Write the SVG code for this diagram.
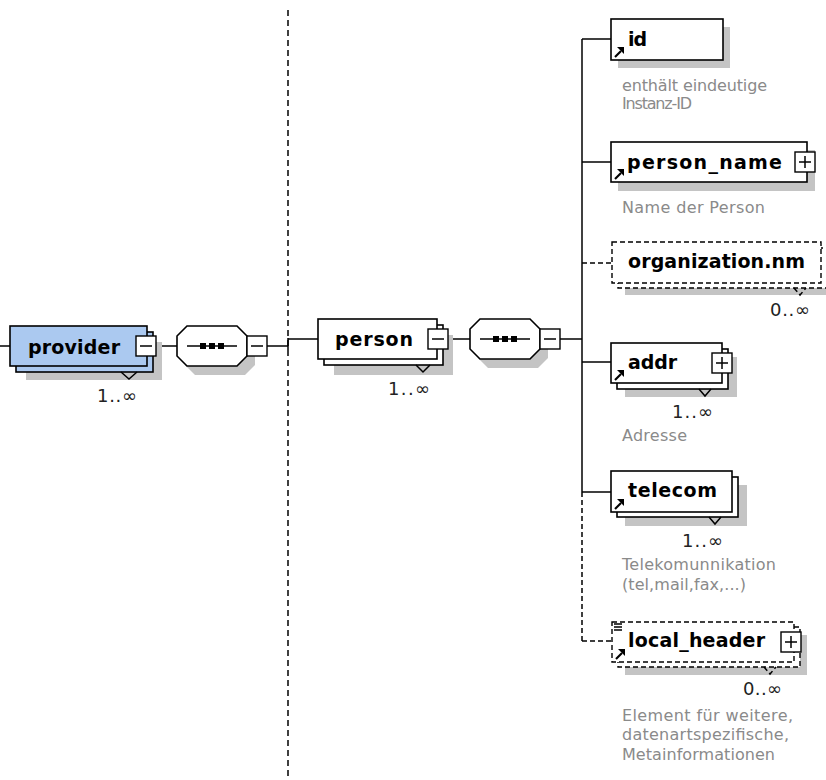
<svg xmlns="http://www.w3.org/2000/svg" xmlns:xlink="http://www.w3.org/1999/xlink" width="826" height="780" viewBox="0 0 826 780">
<style>
.box{fill:#fff;stroke:#000;stroke-width:1.6}
.prov{fill:#abc9f0;stroke:#000;stroke-width:1.6}
.opt{fill:#fff;stroke:#000;stroke-width:1.4;stroke-dasharray:5,3}
.sh{fill:#c4c4c4}
.ln{stroke:#000;stroke-width:1.5;fill:none}
.dl{stroke:#000;stroke-width:1.5;fill:none;stroke-dasharray:5,3}
.ico{fill:#fff;stroke:#000;stroke-width:1.4}
.lbl{font-family:"DejaVu Sans",sans-serif;font-weight:bold;font-size:19px;fill:#000}
.mul{font-family:"DejaVu Sans",sans-serif;font-size:18px;fill:#222}
.ann{font-family:"DejaVu Sans",sans-serif;font-size:16px;fill:#8a8a8a}
</style>
<defs>
  <g id="minus"><rect class="ico" x="0" y="0" width="20" height="20"/><line class="ln" x1="4" y1="10" x2="16" y2="10"/></g>
  <g id="plus"><rect class="ico" x="0" y="0" width="20" height="20"/><line class="ln" x1="4" y1="10" x2="16" y2="10"/><line class="ln" x1="10" y1="4" x2="10" y2="16"/></g>
  <g id="ref"><line stroke="#000" stroke-width="2.2" x1="4" y1="-3" x2="10" y2="-9"/><polygon fill="#000" points="13,-13 13,-6 6,-13"/></g>
  <path id="oct" d="M0,-10 L10,-20 L60,-20 L70,-10 L70,10 L60,20 L10,20 L0,10 Z"/>
  <g id="seq">
    <use xlink:href="#oct" transform="translate(8,9)" class="sh"/>
    <use xlink:href="#oct" class="box"/>
    <line class="ln" x1="10" y1="0" x2="60" y2="0"/>
    <rect x="23" y="-3" width="6" height="6" fill="#000"/>
    <rect x="32" y="-3" width="6" height="6" fill="#000"/>
    <rect x="41" y="-3" width="6" height="6" fill="#000"/>
    <use xlink:href="#minus" x="70" y="-10"/>
  </g>
</defs>

<g id="divider">
  <line class="ln" x1="288" y1="10" x2="288" y2="780" stroke-dasharray="6,4"/>
</g>

<g id="connectors">
  <line class="ln" x1="0" y1="346" x2="10" y2="346"/>
  <line class="ln" x1="156" y1="346" x2="177" y2="346"/>
  <line class="ln" x1="267" y1="346" x2="288" y2="346"/>
  <line class="ln" x1="288" y1="338" x2="288" y2="350"/>
  <line class="ln" x1="288" y1="339" x2="318" y2="339"/>
  <line class="ln" x1="448" y1="339" x2="470" y2="339"/>
  <line class="ln" x1="560" y1="339" x2="582" y2="339"/>
  <line class="ln" x1="582" y1="39" x2="582" y2="492"/>
  <line class="dl" x1="582" y1="492" x2="582" y2="641"/>
  <line class="ln" x1="582" y1="39" x2="611" y2="39"/>
  <line class="ln" x1="582" y1="162" x2="611" y2="162"/>
  <line class="dl" x1="582" y1="263" x2="612" y2="263"/>
  <line class="ln" x1="582" y1="362" x2="611" y2="362"/>
  <line class="ln" x1="582" y1="492" x2="611" y2="492"/>
  <line class="dl" x1="582" y1="641" x2="612" y2="641"/>
</g>

<g id="provider">
  <rect class="sh" x="26" y="342" width="136" height="38"/>
  <rect class="prov" x="16" y="332" width="137" height="40"/>
  <rect class="prov" x="10" y="326" width="137" height="40"/>
  <polyline class="ln" points="121,372 129,379 137,372"/>
  <use xlink:href="#minus" x="136" y="336"/>
  <text class="lbl" x="28" y="354" textLength="92" fill="#111">provider</text>
  <text class="mul" x="97" y="402" textLength="40">1..∞</text>
</g>

<g id="sequence1">
  <use xlink:href="#seq" x="177" y="346"/>
</g>

<g id="person">
  <rect class="sh" x="334" y="335" width="119" height="40"/>
  <rect class="box" x="324" y="325" width="119" height="40"/>
  <rect class="box" x="318" y="319" width="119" height="40"/>
  <polyline class="ln" points="416,365 423,372 430,365"/>
  <use xlink:href="#minus" x="428" y="329"/>
  <text class="lbl" x="335" y="346" textLength="78">person</text>
  <text class="mul" x="388" y="395" textLength="42">1..∞</text>
</g>

<g id="sequence2">
  <use xlink:href="#seq" x="470" y="339"/>
</g>

<g id="id">
  <rect class="sh" x="618" y="27" width="112" height="41"/>
  <rect class="box" x="611" y="19" width="112" height="41"/>
  <use xlink:href="#ref" x="611" y="60"/>
  <text class="lbl" x="628" y="46" textLength="19">id</text>
  <text class="ann" x="622" y="91" textLength="145">enthält eindeutige</text>
  <text class="ann" x="622" y="109" textLength="70">Instanz-ID</text>
</g>

<g id="person_name">
  <rect class="sh" x="618" y="150" width="197" height="41"/>
  <rect class="box" x="611" y="142" width="196" height="40"/>
  <use xlink:href="#plus" x="795" y="152"/>
  <use xlink:href="#ref" x="611" y="182"/>
  <text class="lbl" x="627" y="169" textLength="155">person_name</text>
  <text class="ann" x="622" y="213" textLength="143">Name der Person</text>
</g>

<g id="organization.nm">
  <rect class="sh" x="625" y="255" width="201" height="40"/>
  <rect class="opt" x="618" y="248" width="210" height="40"/>
  <rect class="opt" x="612" y="242" width="209" height="41"/>
  <polyline class="dl" points="794,288 800,295 806,288"/>
  <text class="lbl" x="628" y="268" textLength="177">organization.nm</text>
  <text class="mul" x="770" y="316" textLength="40">0..∞</text>
</g>

<g id="addr">
  <rect class="sh" x="625" y="357" width="112" height="40"/>
  <rect class="box" x="617" y="349" width="111" height="40"/>
  <rect class="box" x="611" y="343" width="111" height="40"/>
  <polyline class="ln" points="699,389 705,396 711,389"/>
  <use xlink:href="#plus" x="712" y="353"/>
  <use xlink:href="#ref" x="611" y="383"/>
  <text class="lbl" x="628" y="369" textLength="49">addr</text>
  <text class="mul" x="672" y="418" textLength="41">1..∞</text>
  <text class="ann" x="622" y="441" textLength="65">Adresse</text>
</g>

<g id="telecom">
  <rect class="sh" x="625" y="485" width="122" height="41"/>
  <rect class="box" x="617" y="477" width="121" height="40"/>
  <rect class="box" x="611" y="471" width="121" height="41"/>
  <polyline class="ln" points="709,517 715,524 721,517"/>
  <use xlink:href="#ref" x="611" y="512"/>
  <text class="lbl" x="628" y="497" textLength="89">telecom</text>
  <text class="mul" x="682" y="547" textLength="41">1..∞</text>
  <text class="ann" x="622" y="570" textLength="154">Telekomunnikation</text>
  <text class="ann" x="622" y="590" textLength="124">(tel,mail,fax,...)</text>
</g>

<g id="local_header">
  <rect class="sh" x="625" y="635" width="182" height="40"/>
  <rect class="opt" x="618" y="627" width="182" height="40"/>
  <rect class="opt" x="612" y="622" width="182" height="40"/>
  <polyline class="dl" points="764,667 770,674 776,667"/>
  <line class="ln" x1="614" y1="624" x2="622" y2="624" stroke-width="1"/>
  <line class="ln" x1="614" y1="627" x2="622" y2="627" stroke-width="1"/>
  <line class="ln" x1="614" y1="630" x2="622" y2="630" stroke-width="1"/>
  <use xlink:href="#plus" x="781" y="632"/>
  <use xlink:href="#ref" x="612" y="662"/>
  <text class="lbl" x="628" y="647" textLength="137">local_header</text>
  <text class="mul" x="743" y="695" textLength="39">0..∞</text>
  <text class="ann" x="622" y="721" textLength="171">Element für weitere,</text>
  <text class="ann" x="622" y="740" textLength="167">datenartspezifische,</text>
  <text class="ann" x="622" y="760" textLength="153">Metainformationen</text>
</g>
</svg>
